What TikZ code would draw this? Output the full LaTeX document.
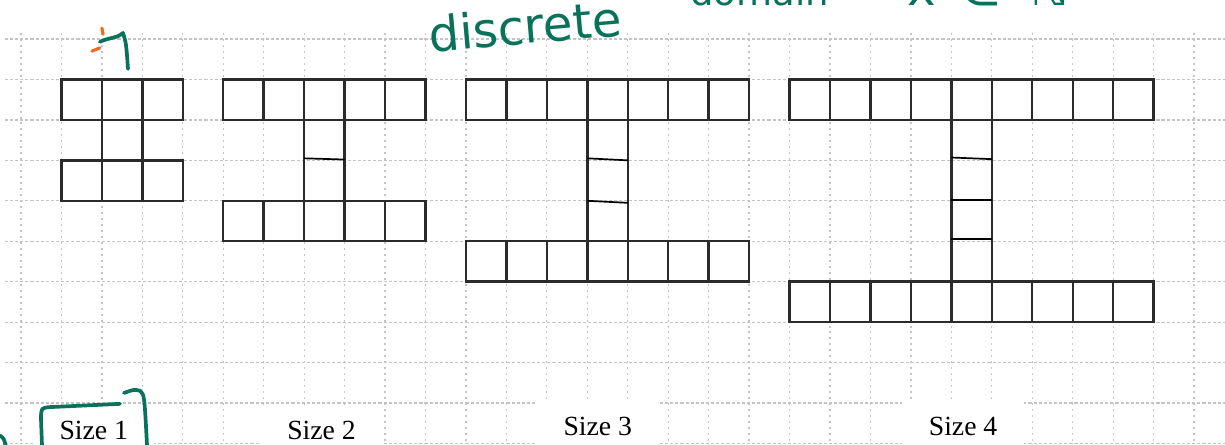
\documentclass[tikz,border=0pt]{standalone}
\usepackage{fontspec}
\setmainfont{Liberation Serif}
\newfontfamily\handfont{DejaVu Sans}
\definecolor{gridgrey}{HTML}{C4C4C4}
\definecolor{tileink}{HTML}{2B2B2B}
\definecolor{inkgreen}{HTML}{08735A}
\definecolor{inkorange}{HTML}{F26B1D}
\tikzset{
  gridrow/.style={
    draw=gridgrey,
    line width=0.9pt,
    dash pattern=on 2.2pt off 1.4pt
  },
  gridcol/.style={
    draw=gridgrey,
    line width=0.9pt,
    dash pattern=on 1.4pt off 2.8pt
  },
  tile/.style={
    draw=tileink,
    line width=1.7pt
  },
  divider/.style={
    draw=black,
    line width=1.2pt
  },
  sizelabel/.style={
    fill=white,
    anchor=base,
    minimum width=3cm,
    text height=0.65cm,
    text depth=0.45cm,
    inner ysep=0.22cm,
    font=\fontsize{19.5}{22}\selectfont
  },
  ink/.style={
    draw=inkgreen,
    line width=2.6pt,
    line cap=round,
    line join=round
  },
  inktext/.style={
    text=inkgreen,
    inner sep=0pt,
    font=\handfont\fontsize{34}{38}\selectfont
  }
}
\begin{document}
\begin{tikzpicture}
\useasboundingbox (-0.519,-10.037) rectangle (29.765,0.964);
\clip (-0.519,-10.037) rectangle (29.765,0.964);
% squared paper
\foreach \j in {0,...,10}
  \draw[gridrow] (-0.4,-\j) -- (29.765,-\j);
\foreach \k in {0,...,29}
  \draw[gridcol] (\k,0.15) -- (\k,-10.037);
% captions
\node[sizelabel] (size1) at (1.80,-9.91) {Size 1};
\node[sizelabel] (size2) at (7.43,-9.91) {Size 2};
\node[sizelabel] (size3) at (14.26,-9.79) {Size 3};
\node[sizelabel] (size4) at (23.29,-9.79) {Size 4};
% the I shapes: 2n+1 tiles on top and bottom, stem of n tiles
\foreach \n/\k in {1/1,2/5,3/11,4/19} {
  \pgfmathtruncatemacro\last{\k+2*\n}
  \foreach \c in {\k,...,\last} {
    \draw[tile] (\c,-1) rectangle ++(1,-1);
    \draw[tile] (\c,-\n-2) rectangle ++(1,-1);
  }
  \draw[tile] (\k+\n,-2) -- ++(0,-\n);
  \draw[tile] (\k+\n+1,-2) -- ++(0,-\n);
}
\draw[divider] (7,-2.95) -- (8,-2.98);
\draw[divider] (14,-2.95) -- (15,-3.0);
\draw[divider] (14,-4.0) -- (15,-4.05);
\draw[divider] (23,-2.93) -- (24,-2.97);
\draw[divider] (23,-3.98) -- (24,-3.98);
\draw[divider] (23,-4.94) -- (24,-4.94);
% handwritten notes
\node[inktext, anchor=base, rotate=5] (discrete) at (12.5,-0.12) {discrete};
\node[inktext, anchor=base west, font=\handfont\fontsize{26}{30}\selectfont] (domain) at (16.54,0.84) {domain};
\node[inktext, anchor=base west] (setN) at (21.9,0.82) {x\hspace{0.5em}∈\hspace{0.6em}ℕ};
\draw[ink] (1.95,-0.07) .. controls (2.2,0.05) and (2.35,0.0) .. (2.52,0.15)
  .. controls (2.6,-0.1) .. (2.645,-0.74);
\draw[draw=inkorange, line width=2.2pt, line cap=round] (2.0,0.27) -- (2.03,0.12);
\draw[draw=inkorange, line width=2.2pt, line cap=round] (1.755,-0.30) -- (1.95,-0.22);
\draw[ink] (0.519,-10.04) -- (0.494,-9.37) .. controls (0.5,-9.12) .. (0.717,-9.1)
  -- (2.447,-9.02);
\draw[ink] (2.546,-8.75) .. controls (2.8,-8.66) .. (2.95,-8.7)
  .. controls (3.05,-8.8) .. (3.115,-10.04);
\draw[ink] (-0.52,-9.8) .. controls (-0.42,-9.88) .. (-0.38,-10.05);
\end{tikzpicture}
\end{document}
